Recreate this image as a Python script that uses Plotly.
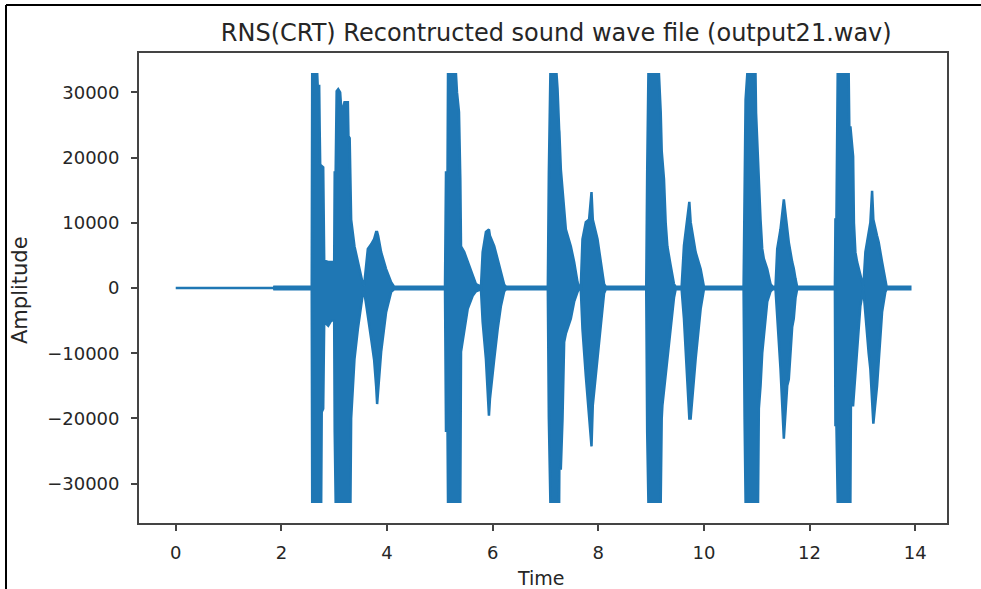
import plotly.graph_objects as go

# ---- data: envelope of the waveform ----
TIME = [0.000, 1.860, 1.866, 2.575, 2.584, 2.679, 2.688, 2.716, 2.726, 2.735, 2.754, 2.764, 2.792, 2.811,
        2.887, 2.943, 3.000, 3.010, 3.028, 3.047, 3.076, 3.113, 3.132, 3.170, 3.195, 3.259, 3.270, 3.293,
        3.308, 3.321, 3.384, 3.448, 3.510, 3.543, 3.567, 3.605, 3.637, 3.700, 3.756, 3.794, 3.813, 3.832,
        3.889, 3.983, 4.078, 4.134,
        5.098, 5.117, 5.146, 5.155, 5.306, 5.325, 5.363, 5.388, 5.401, 5.463, 5.528, 5.622, 5.684, 5.779,
        5.811, 5.873, 5.930, 5.949, 6.030, 6.095, 6.157, 6.219, 6.252,
        7.045, 7.064, 7.093, 7.210, 7.229, 7.259, 7.263, 7.291, 7.323, 7.354, 7.386, 7.480, 7.543, 7.607,
        7.632, 7.669, 7.701, 7.764, 7.826, 7.872, 7.896, 7.985, 8.047, 8.110, 8.142,
        8.908, 8.926, 8.949, 9.149, 9.182, 9.201, 9.214, 9.244, 9.276, 9.308, 9.371, 9.433, 9.465, 9.578,
        9.622, 9.673, 9.724, 9.749, 9.843, 9.938, 10.000,
        10.751, 10.770, 10.789, 10.821, 10.977, 10.987, 11.010, 11.025, 11.040, 11.072, 11.104, 11.134,
        11.199, 11.261, 11.299, 11.356, 11.388, 11.450, 11.513, 11.577, 11.607, 11.671, 11.701, 11.734,
        11.765,
        12.480, 12.490, 12.509, 12.533, 12.741, 12.754, 12.773, 12.783, 12.825, 12.840, 12.868, 12.900,
        12.962, 13.019, 13.057, 13.119, 13.151, 13.184, 13.208, 13.278, 13.309, 13.373, 13.435, 13.459,
        13.907]

UPPER = [0, 0, 200, 200, 32767, 32767, 31000, 31000, 24000, 19000, 18700, 18700, 18500, 4200,
         4000, 4000, 4000, 17700, 17700, 30200, 30500, 30000, 27700, 27700, 28500, 28500, 23300, 23000,
         18000, 10500, 6400, 4000, 1400, 600, 400, 3000, 6000, 6700, 7500, 8600, 8600, 8000,
         5500, 2900, 900, 200,
         200, 17700, 17700, 32767, 32767, 30000, 27000, 16700, 6400, 5500, 4000, 1800, 600, 200,
         5500, 8600, 9000, 8000, 6400, 4400, 2400, 500, 200,
         200, 17700, 32767, 32767, 30500, 24300, 24000, 18200, 15200, 11600, 9000, 6400, 4000, 900,
         200, 200, 7500, 10100, 10500, 14700, 10500, 7500, 4000, 600, 200,
         200, 17700, 32767, 32767, 27000, 21000, 20000, 16700, 10000, 6400, 3400, 600, 200, 200,
         6500, 10100, 13200, 10100, 5500, 2900, 200,
         200, 12600, 28900, 32767, 32767, 26900, 21800, 19000, 17700, 10500, 6000, 4500,
         2900, 600, 200, 200, 6000, 9000, 13600, 8600, 7000, 4000, 3000, 1400,
         200,
         200, 10500, 10500, 32767, 32767, 24000, 24800, 24000, 20200, 10000, 5500, 4000,
         1800, 200, 5500, 9000, 10000, 14900, 10500, 8000, 7000, 4000, 900, 200,
         200]

LOWER = [0, 0, -200, -200, -32767, -32767, -32767, -32767, -32767, -32767, -32767, -19000, -18500, -5200,
         -5800, -5000, -5000, -22000, -32767, -32767, -32767, -32767, -32767, -32767, -32767, -32767, -32767, -32767,
         -32767, -20000, -10900, -6300, -2750, -800, -500, -2500, -3700, -7800, -11000, -15000, -17800, -15000,
         -9800, -3700, -600, -200,
         -200, -21900, -21900, -32767, -32767, -32767, -32767, -32767, -9800, -6300, -3200, -1200, -500, -200,
         -5200, -10900, -19600, -17000, -10900, -6300, -2750, -500, -200,
         -200, -20000, -32767, -32767, -32767, -32767, -27700, -27700, -20000, -8300, -7000, -4700, -2100, -600,
         -200, -200, -6300, -13500, -20000, -24300, -18000, -11300, -5800, -800, -200,
         -200, -22000, -32767, -32767, -32767, -20000, -18000, -16000, -13500, -11000, -6000, -1500, -200, -200,
         -4700, -12000, -20000, -20000, -10900, -3200, -200,
         -200, -20000, -32767, -32767, -32767, -32767, -32767, -32767, -18500, -15000, -10000, -7300,
         -2100, -500, -200, -200, -4700, -12400, -23100, -15000, -14000, -6000, -4700, -1500,
         -200,
         -200, -21000, -21000, -32767, -32767, -32767, -32767, -18000, -18000, -17000, -13000, -9800,
         -2750, -200, -4300, -10000, -12400, -17000, -20800, -15000, -12000, -3700, -600, -200,
         -200]

X_TICKS = [0, 2, 4, 6, 8, 10, 12, 14]
Y_TICKS = [-30000, -20000, -10000, 0, 10000, 20000, 30000]

TITLE = "RNS(CRT) Recontructed sound wave file (output21.wav)"
X_LABEL = "Time"
Y_LABEL = "Amplitude"

BLUE = "#1f77b4"
TXT = "#262626"
FONT = "DejaVu Sans"

fig = go.Figure()
fig.add_trace(go.Scatter(
    x=TIME + TIME[::-1],
    y=UPPER + LOWER[::-1],
    mode="lines",
    fill="toself",
    fillcolor=BLUE,
    line=dict(color=BLUE, width=2.5),
    hoverinfo="skip",
    showlegend=False,
))

t_max = TIME[-1]
a_max = 32767
xr = [-0.05 * t_max, 1.05 * t_max]
yr = [-a_max - 0.05 * 2 * a_max, a_max + 0.05 * 2 * a_max]

axis_common = dict(
    showline=True, mirror=True, linecolor="#444444", linewidth=1.8,
    ticks="outside", ticklen=6, tickwidth=1.5, tickcolor="#444444",
    showgrid=False, zeroline=False, automargin=False,
    tickfont=dict(family=FONT, size=18, color=TXT),
)

fig.update_layout(
    width=981, height=589,
    margin=dict(l=139, r=34, t=53, b=66, autoexpand=False),
    paper_bgcolor="white", plot_bgcolor="white",
    title=dict(text=TITLE, x=0.567, xanchor="center", xref="container",
               y=0.945, yanchor="middle", yref="container",
               font=dict(family=FONT, size=24, color=TXT)),
    xaxis=dict(range=xr, tickvals=X_TICKS, ticktext=[str(v) for v in X_TICKS],
               ticklabelstandoff=6, **axis_common),
    yaxis=dict(range=yr, tickvals=Y_TICKS,
               ticktext=[("\u2212" + str(abs(v))) if v < 0 else str(v) for v in Y_TICKS],
               ticklabelstandoff=8, **axis_common),
    annotations=[
        dict(text=X_LABEL, xref="paper", yref="paper", x=0.4975, y=-0.117,
             xanchor="center", yanchor="middle", showarrow=False,
             font=dict(family=FONT, size=19, color=TXT)),
        dict(text=Y_LABEL, xref="paper", yref="paper", x=-0.1473, y=0.4957, textangle=-90,
             xanchor="center", yanchor="middle", showarrow=False,
             font=dict(family=FONT, size=21, color=TXT)),
    ],
    shapes=[
        dict(type="line", xref="paper", yref="paper", x0=-0.1646, x1=1.1, y0=1.1021, y1=1.1021,
             line=dict(color="black", width=2)),
        dict(type="line", xref="paper", yref="paper", x0=-0.1646, x1=-0.1646, y0=1.1021, y1=-0.2,
             line=dict(color="black", width=2)),
    ],
)

fig.write_html("out.html", config={"displayModeBar": False},
               post_script="document.body.style.margin='0px';")
